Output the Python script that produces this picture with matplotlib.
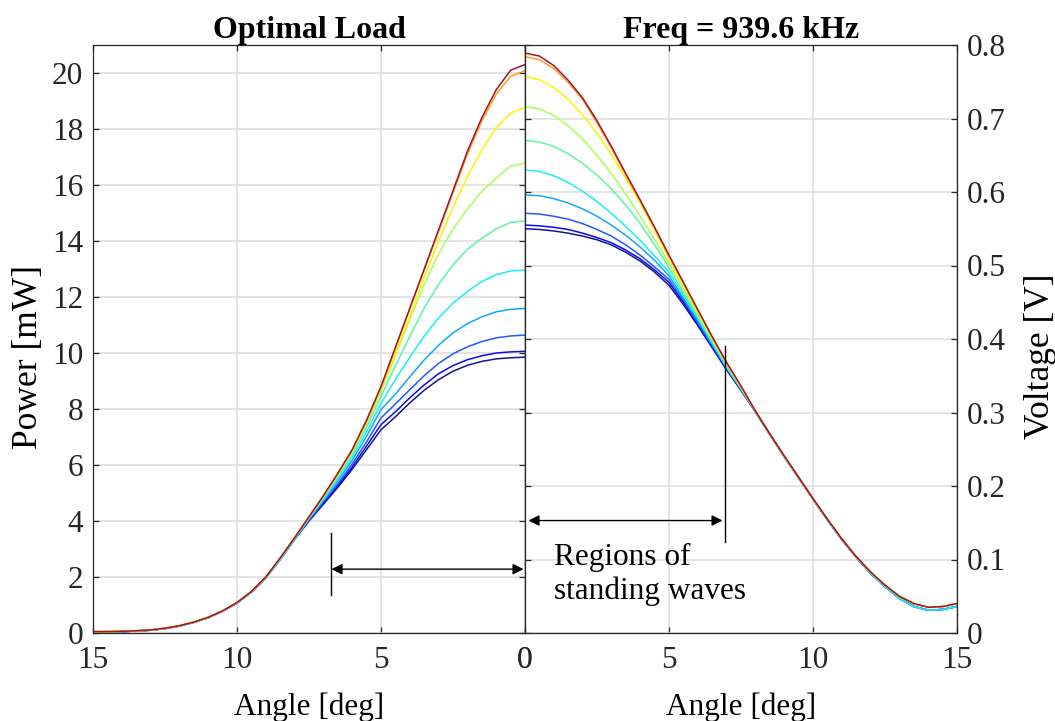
import matplotlib
matplotlib.use("Agg")
from matplotlib import pyplot as plt

plt.rcParams['font.family'] = ['Liberation Serif', 'DejaVu Serif']

# angle grid [deg], 0.5 deg steps
angle = [0, 0.5, 1, 1.5, 2, 2.5, 3, 3.5, 4, 4.5, 5, 5.5, 6, 6.5, 7, 7.5,
         8, 8.5, 9, 9.5, 10, 10.5, 11, 11.5, 12, 12.5, 13, 13.5, 14, 14.5, 15]

# ---- power [mW], optimal load: 0..7.5 deg per curve, tail 8..15 deg
p_darkblue = [9.85, 9.83, 9.79, 9.70, 9.56, 9.35, 9.05, 8.67, 8.22, 7.72, 7.26, 6.55, 5.85, 5.20, 4.60, 4.00]
p_blue2 = [10.06, 10.04, 10.00, 9.90, 9.76, 9.55, 9.26, 8.86, 8.40, 7.90, 7.44, 6.68, 5.93, 5.26, 4.64, 4.02]
p_blue = [10.64, 10.61, 10.54, 10.41, 10.22, 9.97, 9.63, 9.19, 8.69, 8.18, 7.68, 6.83, 6.04, 5.33, 4.68, 4.04]
p_ltblue = [11.59, 11.56, 11.47, 11.29, 11.05, 10.72, 10.28, 9.75, 9.15, 8.53, 7.98, 7.03, 6.17, 5.43, 4.74, 4.07]
p_cyan = [12.96, 12.93, 12.80, 12.55, 12.20, 11.78, 11.25, 10.60, 9.85, 9.05, 8.20, 7.19, 6.28, 5.50, 4.78, 4.09]
p_green = [14.72, 14.66, 14.43, 14.10, 13.70, 13.15, 12.45, 11.60, 10.60, 9.55, 8.45, 7.36, 6.39, 5.58, 4.83, 4.12]
p_ygreen = [16.78, 16.67, 16.25, 15.77, 15.15, 14.42, 13.55, 12.45, 11.20, 9.90, 8.62, 7.47, 6.47, 5.64, 4.86, 4.13]
p_yellow = [18.77, 18.57, 18.05, 17.25, 16.30, 15.20, 14.00, 12.70, 11.30, 10.00, 8.75, 7.56, 6.52, 5.68, 4.89, 4.14]
p_orange = [20.08, 19.88, 19.25, 18.28, 17.10, 15.72, 14.34, 12.96, 11.57, 10.18, 8.79, 7.59, 6.54, 5.70, 4.90, 4.15]
p_darkred = [20.30, 20.10, 19.40, 18.40, 17.20, 15.80, 14.40, 13.00, 11.60, 10.20, 8.80, 7.60, 6.55, 5.70, 4.90, 4.15]
p_tail_warm = [3.40, 2.68, 2.00, 1.48, 1.09, 0.79, 0.56, 0.39, 0.26, 0.17, 0.11, 0.08, 0.06, 0.05, 0.05]
p_tail_cool = [3.34, 2.63, 1.97, 1.46, 1.07, 0.78, 0.55, 0.38, 0.25, 0.16, 0.10, 0.07, 0.05, 0.04, 0.04]

# ---- voltage [V] at 939.6 kHz: 0..7.5 deg per curve, tail 8..15 deg
v_darkblue = [.550, .549, .547, .544, .540, .535, .528, .518, .506, .491, .473, .447, .418, .388, .358, .330]
v_blue2 = [.555, .554, .552, .549, .544, .538, .531, .521, .509, .494, .477, .450, .420, .389, .359, .331]
v_blue = [.571, .570, .567, .563, .557, .549, .540, .528, .514, .498, .481, .453, .422, .391, .360, .331]
v_ltblue = [.596, .595, .591, .585, .577, .567, .555, .541, .525, .507, .486, .456, .425, .393, .361, .332]
v_cyan = [.630, .628, .622, .613, .601, .587, .571, .553, .534, .513, .491, .460, .428, .395, .362, .333]
v_green = [.670, .668, .662, .652, .639, .623, .604, .582, .557, .528, .497, .464, .431, .397, .364, .333]
v_ygreen = [.716, .713, .704, .690, .672, .650, .625, .597, .567, .536, .503, .469, .434, .399, .365, .334]
v_yellow = [.757, .753, .742, .726, .705, .680, .651, .619, .585, .548, .509, .473, .437, .401, .367, .335]
v_orange = [.784, .780, .768, .749, .726, .694, .660, .623, .588, .551, .513, .476, .439, .403, .368, .336]
v_darkred = [.789, .785, .772, .752, .728, .697, .662, .625, .589, .552, .514, .477, .440, .403, .368, .336]
v_tail_warm = [.302, .271, .241, .212, .183, .155, .128, .104, .083, .065, .050, .040, .035, .036, .040]
v_tail_cool = [.301, .270, .240, .211, .182, .154, .127, .103, .081, .063, .047, .036, .031, .032, .036]

power = [p_darkblue, p_blue2, p_blue, p_ltblue, p_cyan, p_green, p_ygreen, p_yellow, p_orange, p_darkred]
volt = [v_darkblue, v_blue2, v_blue, v_ltblue, v_cyan, v_green, v_ygreen, v_yellow, v_orange, v_darkred]
colors = ['#15158E', '#0A0AEE', '#1E5AFF', '#12A6FF', '#18F0F4',
          '#5CF5A0', '#A8FF55', '#FFF200', '#FF9E1A', '#A2142F']

power_ticks = [0, 2, 4, 6, 8, 10, 12, 14, 16, 18, 20]
volt_ticks = [0, 0.1, 0.2, 0.3, 0.4, 0.5, 0.6, 0.7, 0.8]
volt_labels = ['0', '0.1', '0.2', '0.3', '0.4', '0.5', '0.6', '0.7', '0.8']

fs = 22.5       # tick labels
fs_lab = 25.5   # y labels
axcol = '#262626'

fig = plt.figure(figsize=(10.55, 7.21), dpi=100)
ax1 = fig.add_axes([93/1055, 88/721, 432/1055, 588/721])
ax2 = fig.add_axes([525/1055, 88/721, 432/1055, 588/721])

for i in range(len(power)):
    if i < 5:
        pt, vt = p_tail_cool, v_tail_cool
    else:
        pt, vt = p_tail_warm, v_tail_warm
    ax1.plot(angle, power[i] + pt, color=colors[i], lw=1.1)
    ax2.plot(angle, volt[i] + vt, color=colors[i], lw=1.1)

ax1.set_xlim(15, 0)
ax1.set_ylim(0, 21)
ax1.set_xticks([15, 10, 5, 0])
ax1.set_yticks(power_ticks)
ax1.set_ylabel('Power [mW]', fontsize=fs_lab, labelpad=5)
ax1.yaxis.label.set_y(0.47)
ax1.set_xlabel('Angle [deg]', fontsize=fs, labelpad=13)
ax1.set_title('Optimal Load', fontsize=23, fontweight='bold', pad=5)

ax2.set_xlim(0, 15)
ax2.set_ylim(0, 0.8)
ax2.set_xticks([0, 5, 10, 15])
ax2.set_yticks(volt_ticks)
ax2.set_yticklabels(volt_labels)
ax2.yaxis.set_label_position('right')
ax2.yaxis.tick_right()
ax2.set_ylabel('Voltage [V]', fontsize=fs_lab, labelpad=13)
ax2.yaxis.label.set_y(0.47)
ax2.set_xlabel('Angle [deg]', fontsize=fs, labelpad=13)
ax2.set_title('Freq = 939.6 kHz', fontsize=23, fontweight='bold', pad=5)

for ax in (ax1, ax2):
    ax.grid(True, color='#dcdcdc', lw=1.1)
    ax.set_axisbelow(True)
    ax.tick_params(direction='in', length=4.5, width=0.9, colors=axcol,
                   labelsize=fs, top=True, bottom=True, left=True, right=True,
                   pad=7)
    ax.tick_params(axis='x', pad=9)
    for s in ax.spines.values():
        s.set_color(axcol)
        s.set_linewidth(0.9)

# annotations: regions of standing waves
arrow = dict(arrowstyle='<|-|>', color='black', lw=1.0,
             mutation_scale=16, shrinkA=0, shrinkB=0)
ax1.plot([6.75, 6.75], [1.36, 3.57], color='black', lw=1.0)
ax1.annotate('', xy=(0.05, 2.28), xytext=(6.72, 2.28), arrowprops=arrow)

ax2.plot([6.94, 6.94], [0.124, 0.39], color='black', lw=1.0)
ax2.annotate('', xy=(0.12, 0.153), xytext=(6.86, 0.153), arrowprops=arrow)
ax2.text(1.0, 0.079, 'Regions of\nstanding waves', fontsize=fs,
         ha='left', va='center', linespacing=1.2)

fig.savefig('out.png', dpi=100)
